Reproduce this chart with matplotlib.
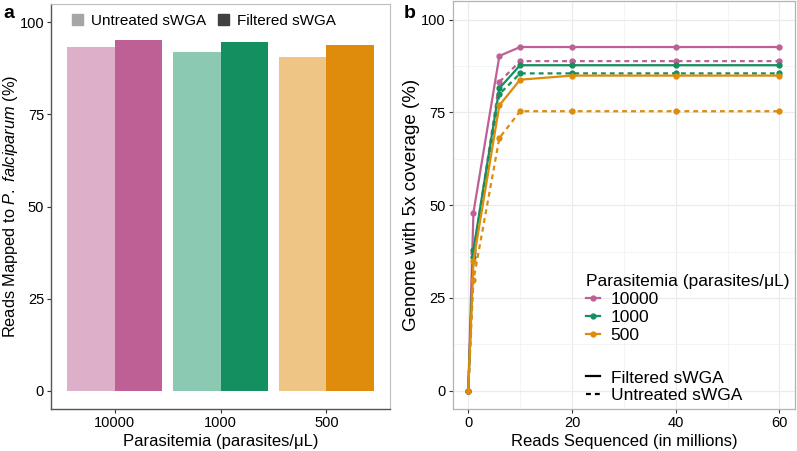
import matplotlib
matplotlib.use("Agg")
import matplotlib.pyplot as plt
from matplotlib.lines import Line2D
from matplotlib.patches import Patch
import numpy as np

plt.rcParams["font.family"] = ["Liberation Sans", "DejaVu Sans"]
plt.rcParams["mathtext.fontset"] = "custom"
plt.rcParams["mathtext.rm"] = "Liberation Sans"
plt.rcParams["mathtext.it"] = "Liberation Sans:italic"

# panel a data
parasitemia = ["10000", "1000", "500"]
mapped_untreated = [93.3, 92.0, 90.7]
mapped_filtered = [95.1, 94.6, 93.9]

# panel b data
reads_millions = [0, 1, 6, 10, 20, 40, 60]
cov_filtered = {
    "10000": [0, 48.0, 90.2, 92.6, 92.6, 92.6, 92.6],
    "1000": [0, 38.0, 81.5, 87.7, 87.7, 87.7, 87.7],
    "500": [0, 35.0, 76.9, 83.8, 84.9, 84.9, 84.9],
}
cov_untreated = {
    "10000": [0, 37.0, 83.2, 88.8, 88.8, 88.8, 88.8],
    "1000": [0, 36.0, 79.9, 85.5, 85.5, 85.5, 85.5],
    "500": [0, 29.8, 68.1, 75.3, 75.3, 75.3, 75.3],
}

dark = {"10000": "#BE6096", "1000": "#148F5F", "500": "#DF8B0B"}
light = {"10000": "#DDAFC9", "1000": "#8BC9B2", "500": "#EEC584"}

fig = plt.figure(figsize=(7.97, 4.51), dpi=100)

# ---- panel a ----
ax = fig.add_axes([51 / 797, 42 / 451, 339 / 797, 405 / 451])
x = np.arange(len(parasitemia))
w = 0.45
ax.bar(x - w / 2, mapped_untreated, width=w, color=[light[p] for p in parasitemia])
ax.bar(x + w / 2, mapped_filtered, width=w, color=[dark[p] for p in parasitemia])
ax.set_xlim(-0.6, 2.6)
ax.set_ylim(-5, 105)
ax.set_xticks(x)
ax.set_xticklabels(parasitemia)
ax.set_yticks([0, 25, 50, 75, 100])
ax.set_xlabel("Parasitemia (parasites/\u03bcL)", fontsize=12, labelpad=3)
ax.set_ylabel("Reads Mapped to $\\it{P.}$ $\\it{falciparum}$ (%)", fontsize=11.8)
ax.yaxis.set_label_coords(-0.09, 0.5)
ax.tick_params(labelsize=10.5, length=3, color="#333333", width=0.8, pad=2)
for side in ["top", "right"]:
    ax.spines[side].set_color("#BDBDBD")
    ax.spines[side].set_linewidth(0.8)
for side in ["left", "bottom"]:
    ax.spines[side].set_color("#555555")
    ax.spines[side].set_linewidth(1.0)
handles_a = [Patch(color="#A6A6A6", label="Untreated sWGA"),
             Patch(color="#404040", label="Filtered sWGA")]
ax.legend(handles=handles_a, loc="upper left", bbox_to_anchor=(0.02, 1.01), ncol=2,
          frameon=False, fontsize=11, handlelength=0.75, handleheight=0.8,
          handletextpad=0.5, columnspacing=0.8)
fig.text(3 / 797, 1 - 14 / 451, "a", fontsize=14, fontweight="bold", va="center")

# ---- panel b ----
bx = fig.add_axes([452.7 / 797, 41.7 / 451, 342.3 / 797, 408.3 / 451])
bx.set_xlim(-3, 63)
bx.set_ylim(-5, 105)
bx.set_xticks([0, 20, 40, 60])
bx.set_yticks([0, 25, 50, 75, 100])
bx.set_xticks([10, 30, 50], minor=True)
bx.set_yticks([12.5, 37.5, 62.5, 87.5], minor=True)
bx.grid(True, which="major", color="#EBEBEB", linewidth=0.9)
bx.grid(True, which="minor", color="#F3F3F3", linewidth=0.6)
bx.set_axisbelow(True)
bx.tick_params(which="minor", length=0)
bx.tick_params(which="major", labelsize=10.5, length=3, color="#333333", width=0.8, pad=2)
for s in bx.spines.values():
    s.set_color("#B3B3B3")
    s.set_linewidth(0.9)
for p in parasitemia:
    bx.plot(reads_millions, cov_untreated[p], color=dark[p], linestyle=(0, (2.2, 1.8)),
            linewidth=1.6, marker="o", markersize=3.5, clip_on=False)
    bx.plot(reads_millions, cov_filtered[p], color=dark[p], linestyle="-",
            linewidth=1.6, marker="o", markersize=3.5, clip_on=False)
bx.set_xlabel("Reads Sequenced (in millions)", fontsize=12, labelpad=3)
bx.set_ylabel("Genome with 5x coverage (%)", fontsize=13.5, labelpad=1)

color_handles = [Line2D([], [], color=dark[p], marker="o", markersize=3.5, linewidth=1.6,
                        label=p) for p in parasitemia]
leg1 = bx.legend(handles=color_handles, title="Parasitemia (parasites/\u03bcL)",
                 loc="upper left", bbox_to_anchor=(0.355, 0.36), frameon=False,
                 fontsize=12.5, title_fontsize=12.5, handlelength=0.8,
                 handletextpad=0.6, labelspacing=0.15, borderpad=0.2)
leg1._legend_box.align = "left"
bx.add_artist(leg1)
style_handles = [Line2D([], [], color="black", linestyle="-", linewidth=1.6, label="Filtered sWGA"),
                 Line2D([], [], color="black", linestyle=(0, (2.2, 1.8)), linewidth=1.6,
                        label="Untreated sWGA")]
bx.legend(handles=style_handles, loc="upper left", bbox_to_anchor=(0.355, 0.125),
          frameon=False, fontsize=12.5, handlelength=0.8, handletextpad=0.6,
          labelspacing=0.15, borderpad=0.2)
fig.text(404 / 797, 1 - 14 / 451, "b", fontsize=14, fontweight="bold", va="center")

fig.savefig("out.png", dpi=100)
